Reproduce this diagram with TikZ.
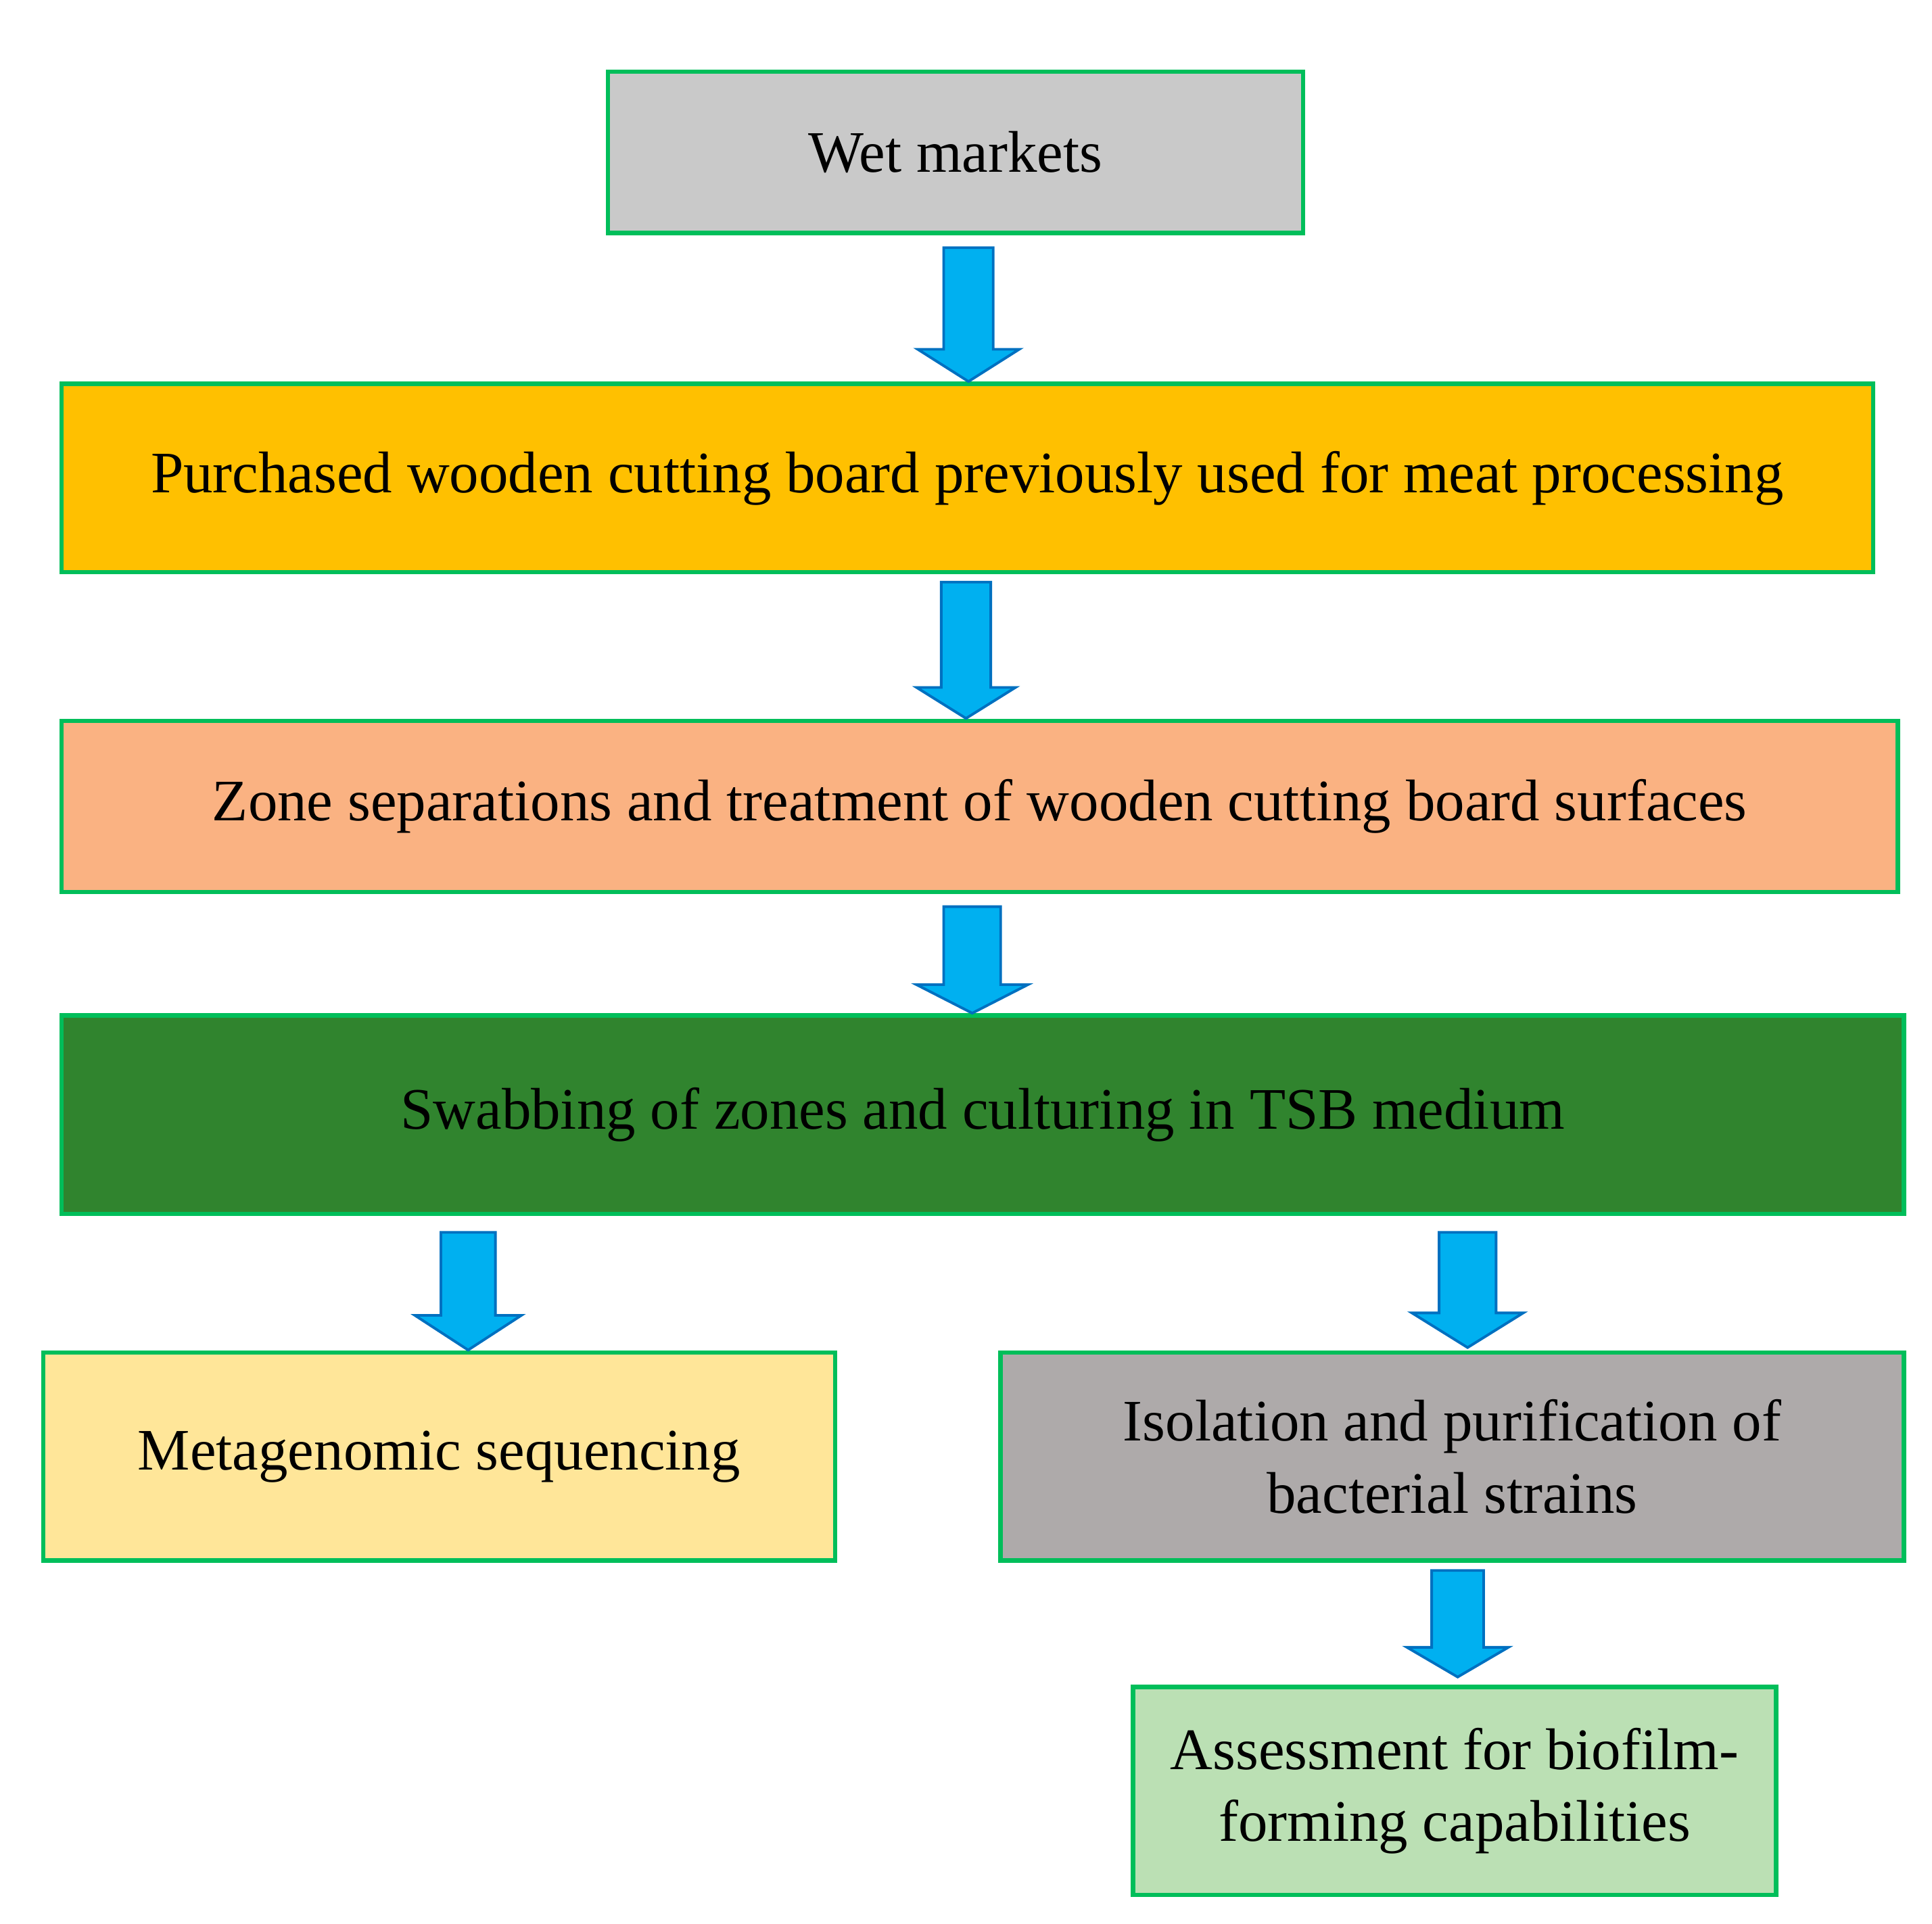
\documentclass[tikz,border=0pt]{standalone}
\usepackage{fontspec}
\setmainfont{Liberation Serif}
\usetikzlibrary{positioning}
\definecolor{boxline}{RGB}{0,190,90}
\definecolor{arrowfill}{RGB}{0,176,240}
\definecolor{arrowline}{RGB}{0,112,192}
\definecolor{wetgray}{RGB}{201,201,201}
\definecolor{boardorange}{RGB}{255,192,0}
\definecolor{zonesalmon}{RGB}{250,178,130}
\definecolor{swabgreen}{RGB}{48,132,46}
\definecolor{metayellow}{RGB}{255,230,153}
\definecolor{isogray}{RGB}{174,170,170}
\definecolor{assessgreen}{RGB}{187,224,180}
% block arrow: x centre, top, tip, shaft half width, head half width, head start
\newcommand{\downarrowblock}[6]{%
  \draw[arrowline, fill=arrowfill, line width=0.6pt]
    (#1-#4,#2) -- (#1+#4,#2) -- (#1+#4,#6) -- (#1+#5,#6) -- (#1,#3)
    -- (#1-#5,#6) -- (#1-#4,#6) -- cycle;}
\begin{document}
\begin{tikzpicture}[x=0.01cm, y=-0.01cm,
  box/.style = {draw=boxline, line width=1pt, align=center, inner sep=0pt,
                font=\fontsize{13.5}{16.5}\selectfont}]
  \useasboundingbox (0,0) rectangle (1560,1553);
  \node[box, fill=wetgray, minimum width=5.61cm, minimum height=1.30cm] (wet) at (771.5,123) {Wet markets};
  \node[box, fill=boardorange, minimum width=14.62cm, minimum height=1.52cm] (board) at (781,386) {Purchased wooden cutting board previously used for meat processing};
  \node[box, fill=zonesalmon, minimum width=14.82cm, minimum height=1.38cm] (zone) at (791,651) {Zone separations and treatment of wooden cutting board surfaces};
  \node[box, fill=swabgreen, minimum width=14.87cm, minimum height=1.60cm] (swab) at (793.5,900) {Swabbing of zones and culturing in TSB medium};
  \node[box, fill=metayellow, minimum width=6.39cm, minimum height=1.68cm] (meta) at (354.5,1176) {Metagenomic sequencing};
  \node[box, fill=isogray, minimum width=7.29cm, minimum height=1.68cm] (iso) at (1172.5,1176) {Isolation and purification of\\bacterial strains};
  \node[box, fill=assessgreen, minimum width=5.19cm, minimum height=1.68cm] (assess) at (1174.5,1446) {Assessment for biofilm-\\forming capabilities};

  \downarrowblock{782}{200}{308}{20}{41}{282}
  \downarrowblock{780}{470}{580}{20}{40}{555}
  \downarrowblock{785}{732}{818}{23}{45}{795}
  \downarrowblock{378}{995}{1090}{22}{43}{1062}
  \downarrowblock{1185}{995}{1088}{23}{45}{1060}
  \downarrowblock{1177}{1268}{1354}{21}{41}{1330}
\end{tikzpicture}
\end{document}
